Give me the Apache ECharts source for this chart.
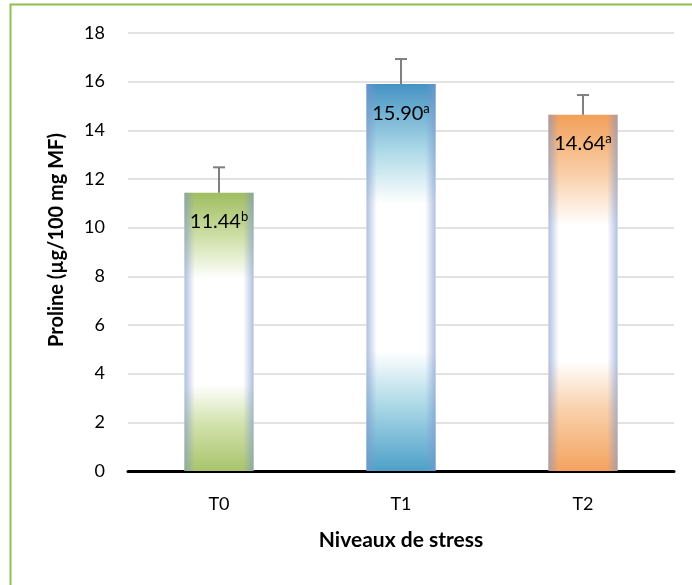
<!DOCTYPE html>
<html>
<head>
<meta charset="utf-8">
<script src="https://cdn.jsdelivr.net/npm/echarts@6/dist/echarts.min.js"></script>
<style>
html,body{margin:0;padding:0;background:#fff;}
#chart{width:692px;height:585px;}
</style>
</head>
<body>
<div id="chart"></div>
<script>
var categories = ['T0', 'T1', 'T2'];
var values = [11.44, 15.90, 14.64];
var errors = [1.04, 1.03, 0.81];
var letters = ['b', 'a', 'a'];
var yTicks = [0, 2, 4, 6, 8, 10, 12, 14, 16, 18];
var yTitle = 'Proline (µg/100 mg MF)';
var xTitle = 'Niveaux de stress';

var FONT = 'Lato, "Open Sans", sans-serif';
var baseColors = [
  ['#a0bd60', '#d2e2ad', '#a9c46c'],
  ['#4592c3', '#acd9e7', '#4ea0c9'],
  ['#f39f5a', '#f9d0aa', '#f4a35f']
];

function grad(c) {
  return new echarts.graphic.LinearGradient(0, 0, 0, 1, [
    {offset: 0, color: c[0]},
    {offset: 0.17, color: c[1]},
    {offset: 0.31, color: '#ffffff'},
    {offset: 0.69, color: '#ffffff'},
    {offset: 0.83, color: c[1]},
    {offset: 1, color: c[2]}
  ]);
}
var sideGrad = new echarts.graphic.LinearGradient(0, 0, 1, 0, [
  {offset: 0, color: 'rgba(125,150,205,0.6)'},
  {offset: 0.15, color: 'rgba(125,150,205,0)'},
  {offset: 0.85, color: 'rgba(125,150,205,0)'},
  {offset: 1, color: 'rgba(125,150,205,0.6)'}
]);

var mainData = values.map(function (v, i) {
  return {value: v, itemStyle: {color: grad(baseColors[i])}};
});
var overlayData = values.map(function (v, i) {
  return {value: v, letter: letters[i]};
});
var errData = values.map(function (v, i) { return [i, v, errors[i]]; });

var chart = echarts.init(document.getElementById('chart'));
chart.setOption({
  animation: false,
  backgroundColor: '#ffffff',
  textStyle: {fontFamily: FONT},
  graphic: [{
    type: 'rect',
    silent: true,
    shape: {x: 10.5, y: 4.5, width: 900, height: 900},
    style: {fill: 'none', stroke: '#8fbe4d', lineWidth: 2}
  }, {
    type: 'text',
    silent: true,
    x: 57,
    y: 240,
    rotation: Math.PI / 2,
    style: {
      text: yTitle,
      fontSize: 20,
      fontWeight: 'bold',
      fontFamily: FONT,
      fill: '#000',
      align: 'center',
      verticalAlign: 'middle'
    }
  }],
  grid: {left: 128, right: 18, top: 33, bottom: 114},
  xAxis: {
    type: 'category',
    data: categories,
    axisTick: {show: false},
    axisLine: {show: true, lineStyle: {color: '#000', width: 3}},
    axisLabel: {fontSize: 18, color: '#000', margin: 24, fontFamily: FONT},
    name: xTitle,
    nameLocation: 'middle',
    nameGap: 59,
    nameTextStyle: {fontSize: 21, fontWeight: 'bold', color: '#000', fontFamily: FONT}
  },
  yAxis: {
    type: 'value',
    min: yTicks[0],
    max: yTicks[yTicks.length - 1],
    interval: yTicks[1] - yTicks[0],
    axisLine: {show: false},
    axisTick: {show: false},
    axisLabel: {fontSize: 18, color: '#000', margin: 23, fontFamily: FONT},
    splitLine: {lineStyle: {color: '#d9d9d9', width: 1.5}}
  },
  series: [
    {
      type: 'bar',
      data: mainData,
      barWidth: '38%',
      silent: true,
      z: 2
    },
    {
      type: 'bar',
      data: overlayData,
      barWidth: '38%',
      barGap: '-100%',
      silent: true,
      z: 3,
      itemStyle: {color: sideGrad},
      label: {
        show: true,
        position: 'insideTop',
        distance: 18,
        formatter: function (p) {
          return '{v|' + p.value.toFixed(2) + '}{s|' + p.data.letter + '}';
        },
        rich: {
          v: {fontSize: 20, color: '#000', fontFamily: FONT, lineHeight: 22},
          s: {fontSize: 13, color: '#000', fontFamily: FONT, verticalAlign: 'top', lineHeight: 22, padding: [0, 0, 8, 0]}
        }
      }
    },
    {
      type: 'custom',
      data: errData,
      silent: true,
      z: 4,
      renderItem: function (params, api) {
        var i = api.value(0), v = api.value(1), e = api.value(2);
        var p0 = api.coord([i, v]);
        var p1 = api.coord([i, v + e]);
        var st = {stroke: '#7f7f7f', lineWidth: 2};
        return {
          type: 'group',
          children: [
            {type: 'line', shape: {x1: p0[0], y1: p0[1], x2: p1[0], y2: p1[1]}, style: st},
            {type: 'line', shape: {x1: p1[0] - 6, y1: p1[1], x2: p1[0] + 6, y2: p1[1]}, style: st}
          ]
        };
      }
    }
  ]
});
</script>
</body>
</html>
